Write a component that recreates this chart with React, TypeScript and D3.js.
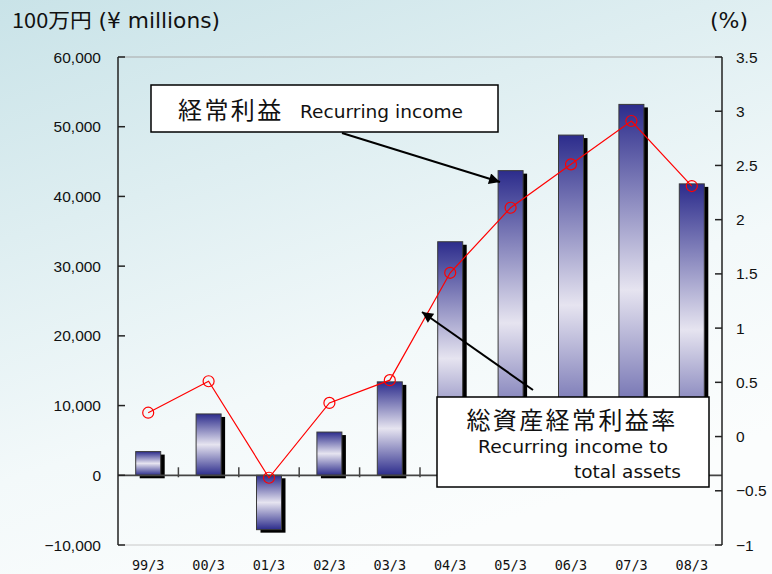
import React from "react";
import * as d3 from "d3";

const categories = ["99/3", "00/3", "01/3", "02/3", "03/3", "04/3", "05/3", "06/3", "07/3", "08/3"];
const recurringIncome = [3400, 8800, -7800, 6200, 13400, 33500, 43700, 48800, 53200, 41800];
const incomeToAssets = [0.22, 0.51, -0.38, 0.31, 0.52, 1.51, 2.11, 2.51, 2.91, 2.31];
const leftTicks = [-10000, 0, 10000, 20000, 30000, 40000, 50000, 60000];
const rightTicks = [-1, -0.5, 0, 0.5, 1, 1.5, 2, 2.5, 3, 3.5];

const W = 772;
const H = 574;
const L = 118;
const R = 722;
const T = 57;
const B = 545;

const fmtLeft = (v: number) => (v < 0 ? "\u2212" : "") + d3.format(",")(Math.abs(v));
const fmtRight = (v: number) => (v < 0 ? "\u2212" : "") + String(Math.abs(v));

export default function App() {
  const x = d3.scaleBand<string>().domain(categories).range([L, R]).padding(0);
  const yL = d3.scaleLinear().domain([-10000, 60000]).range([B, T]);
  const yR = d3.scaleLinear().domain([-1, 3.5]).range([B, T]);
  const bw = 25;
  const cx = (c: string) => (x(c) as number) + x.bandwidth() / 2;
  const line = d3
    .line<number>()
    .x((_, i) => cx(categories[i]))
    .y((d) => yR(d));
  const y0 = yL(0);
  const sans = "'Liberation Sans', Arial, sans-serif";
  const dv = "'DejaVu Sans', sans-serif";
  const jp = "'Noto Sans CJK JP', sans-serif";

  return (
    <svg
      width={W}
      height={H}
      style={{ position: "fixed", left: 0, top: 0, display: "block" }}
    >
      <defs>
        <linearGradient id="bg" x1="0" y1="0" x2="0.45" y2="1">
          <stop offset="0" stopColor="#c9e3e8" />
          <stop offset="0.7" stopColor="#f3f9fa" />
          <stop offset="1" stopColor="#fbfdfd" />
        </linearGradient>
        <linearGradient id="bar" x1="0" y1="0" x2="0" y2="1">
          <stop offset="0" stopColor="#2c2c8c" />
          <stop offset="0.5" stopColor="#e6e4f0" />
          <stop offset="1" stopColor="#2c2c8c" />
        </linearGradient>
        <marker id="ah" viewBox="0 0 10 10" refX="10" refY="5" markerWidth="15" markerHeight="11" markerUnits="userSpaceOnUse" orient="auto">
          <path d="M0,0 L10,5 L0,10 z" fill="#000" />
        </marker>
      </defs>
      <rect x={0} y={0} width={W} height={H} fill="url(#bg)" />

      {/* frame lines */}
      <line x1={L} x2={R} y1={T} y2={T} stroke="#a8a8a8" strokeWidth={1} />
      <line x1={L} x2={R} y1={B} y2={B} stroke="#c8c8c8" strokeWidth={1} />

      {/* bars: shadows then bars */}
      {categories.map((c, i) => {
        const v = recurringIncome[i];
        const top = Math.min(yL(v), y0);
        const h = Math.abs(yL(v) - y0);
        return (
          <rect key={"s" + c} x={cx(c) - bw / 2 + 4} y={top + 3} width={bw} height={h} fill="#000" />
        );
      })}
      {categories.map((c, i) => {
        const v = recurringIncome[i];
        const top = Math.min(yL(v), y0);
        const h = Math.abs(yL(v) - y0);
        return (
          <rect key={"b" + c} x={cx(c) - bw / 2} y={top} width={bw} height={h} fill="url(#bar)" stroke="#3a3a3a" strokeWidth={1} />
        );
      })}

      {/* zero line + x ticks */}
      <line x1={L} x2={R} y1={y0} y2={y0} stroke="#444" strokeWidth={1.8} />
      {categories.slice(1).map((c) => (
        <line key={"xt" + c} x1={x(c) as number} x2={x(c) as number} y1={y0 - 8} y2={y0 + 2} stroke="#444" strokeWidth={1.5} />
      ))}

      {/* left axis */}
      <line x1={L} x2={L} y1={T} y2={B} stroke="#222" strokeWidth={1.5} />
      {leftTicks.map((t) => (
        <g key={"lt" + t}>
          <line x1={L} x2={L + 7} y1={yL(t)} y2={yL(t)} stroke="#222" strokeWidth={1.5} />
          <text x={101} y={yL(t)} dy="0.36em" textAnchor="end" fontFamily={sans} fontSize={15.5} fill="#111">
            {fmtLeft(t)}
          </text>
        </g>
      ))}

      {/* right axis */}
      <line x1={R} x2={R} y1={T} y2={B} stroke="#222" strokeWidth={1.5} />
      {rightTicks.map((t) => (
        <g key={"rt" + t}>
          <line x1={R - 7} x2={R} y1={yR(t)} y2={yR(t)} stroke="#222" strokeWidth={1.5} />
          <text x={736} y={yR(t)} dy="0.36em" textAnchor="start" fontFamily={sans} fontSize={15.5} fill="#111">
            {fmtRight(t)}
          </text>
        </g>
      ))}

      {/* x labels */}
      {categories.map((c) => (
        <text key={"xl" + c} x={cx(c)} y={570} textAnchor="middle" fontFamily="'DejaVu Sans Mono', monospace" fontSize={13.5} fill="#111">
          {c}
        </text>
      ))}

      {/* line series */}
      <path d={line(incomeToAssets) || ""} fill="none" stroke="#ff0000" strokeWidth={1.2} />
      {incomeToAssets.map((v, i) => (
        <circle key={"p" + i} cx={cx(categories[i])} cy={yR(v)} r={5.5} fill="none" stroke="#ff0000" strokeWidth={1.2} />
      ))}

      {/* titles */}
      <text x={12} y={28} fontFamily={dv} fontSize={20.5} fill="#111" textLength={208} lengthAdjust="spacingAndGlyphs">
        <tspan fontFamily={jp}>100万円</tspan> (¥ millions)
      </text>
      <text x={710} y={28} fontFamily={dv} fontSize={21} fill="#111" textLength={38} lengthAdjust="spacingAndGlyphs">(%)</text>

      {/* arrows */}
      <line x1={342} y1={133} x2={500} y2={182} stroke="#000" strokeWidth={2} markerEnd="url(#ah)" />
      <line x1={533} y1={390} x2={422} y2={312} stroke="#000" strokeWidth={2} markerEnd="url(#ah)" />

      {/* annotation box 1 */}
      <rect x={151} y={85} width={347} height={47} fill="#fff" stroke="#000" strokeWidth={1.5} />
      <text x={178} y={119} fontFamily={jp} fontSize={24} letterSpacing={2.4} fill="#111">経常利益</text>
      <text x={300} y={118} fontFamily={dv} fontSize={18} fill="#111" textLength={163} lengthAdjust="spacingAndGlyphs">Recurring income</text>

      {/* annotation box 2 */}
      <rect x={437} y={397} width={272} height={90} fill="#fff" stroke="#000" strokeWidth={1.5} />
      <text x={572} y={429} textAnchor="middle" fontFamily={jp} fontSize={24} letterSpacing={2.4} fill="#111">総資産経常利益率</text>
      <text x={478} y={453} fontFamily={dv} fontSize={18.5} fill="#111" textLength={190} lengthAdjust="spacingAndGlyphs">Recurring income to</text>
      <text x={681} y={478} textAnchor="end" fontFamily={dv} fontSize={18.5} fill="#111">total assets</text>
    </svg>
  );
}
